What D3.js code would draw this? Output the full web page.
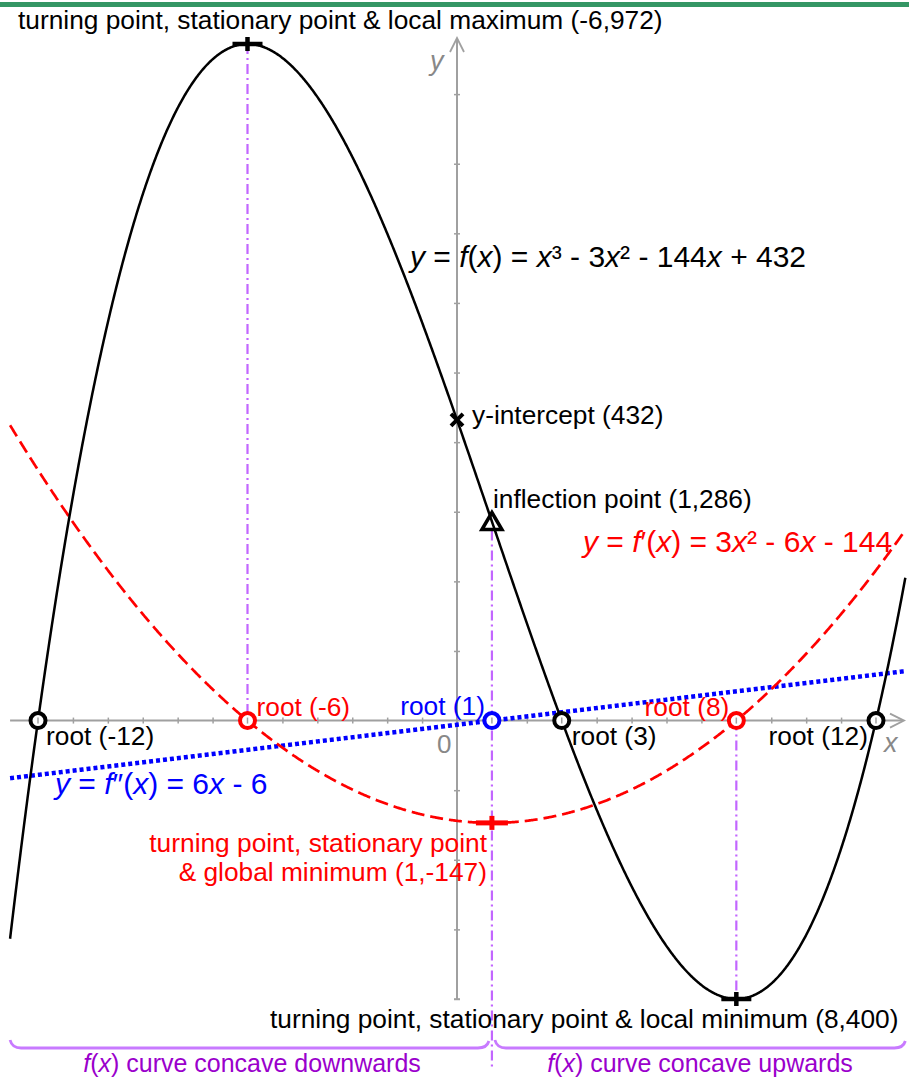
<!DOCTYPE html>
<html>
<head>
<meta charset="utf-8">
<script src="https://cdn.jsdelivr.net/npm/d3@7"></script>
<style>
  html, body { margin: 0; padding: 0; background: #fff; }
  svg { display: block; font-family: "Liberation Sans", Arial, sans-serif; }
</style>
</head>
<body>
<svg id="chart" width="909" height="1078"></svg>
<script>
// Polynomial coefficients, highest power first
const fCoeffs  = [1, -3, -144, 432];   // f(x)   = x³ - 3x² - 144x + 432
const f1Coeffs = [3, -6, -144];        // f'(x)  = 3x² - 6x - 144
const f2Coeffs = [6, -6];              // f''(x) = 6x - 6
const plotDomain = [-12.8, 12.84];

// Special points
const fRoots     = [-12, 3, 12];
const f1Roots    = [-6, 8];
const f2Roots    = [1];
const localMax   = [-6, 972];
const localMin   = [8, -400];
const inflection = [1, 286];
const yIntercept = [0, 432];
const f1Min      = [1, -147];

// Axis ticks
const xTickValues = [-12, -11, -10, -9, -8, -7, -6, -5, -4, -3, -2, -1, 1, 2, 3, 4, 5, 6, 7, 8, 9, 10, 11, 12];
const yTickValues = [-400, -300, -200, -100, 100, 200, 300, 400, 500, 600, 700, 800, 900];

const svg = d3.select("#chart");
const W = 909, H = 1078;

const x = d3.scaleLinear().domain([-12, 12]).range([38, 876]);
const y = d3.scaleLinear().domain([-400, 972]).range([999, 44]);

const axisColor = "#a0a0a0";
const violet = "#c266ff";
const bracketViolet = "#c87aff";
const purpleText = "#9a00cc";
const red = "#ff0000";
const blue = "#0000ff";
const labelSize = 26.3;

const poly = c => t => c.reduce((acc, k) => acc * t + k, 0);
const f = poly(fCoeffs), f1 = poly(f1Coeffs), f2 = poly(f2Coeffs);

const samples = d3.range(plotDomain[0], plotDomain[1], 0.02).concat([plotDomain[1]]);
const line = fn => d3.line().x(d => x(d)).y(d => y(fn(d)))(samples);

// top rule
svg.append("rect").attr("x", 0).attr("y", 2).attr("width", W).attr("height", 5).attr("fill", "#349664");

// ---- axes ----
const x0 = x(0), y0 = y(0);
svg.append("line").attr("x1", x(plotDomain[0])).attr("x2", 903).attr("y1", y0).attr("y2", y0)
  .attr("stroke", axisColor).attr("stroke-width", 2);
svg.append("path").attr("d", `M890,${y0 - 7}L904,${y0}L890,${y0 + 7}`)
  .attr("fill", "none").attr("stroke", axisColor).attr("stroke-width", 1.8);
svg.append("line").attr("x1", x0).attr("x2", x0).attr("y1", y(-400)).attr("y2", 39)
  .attr("stroke", axisColor).attr("stroke-width", 2);
svg.append("path").attr("d", `M${x0 - 7},52L${x0},38L${x0 + 7},52`)
  .attr("fill", "none").attr("stroke", axisColor).attr("stroke-width", 1.8);

svg.append("g").attr("transform", `translate(0,${y0 - 3})`)
  .call(d3.axisBottom(x).tickValues(xTickValues).tickSize(6).tickSizeOuter(0).tickFormat(""))
  .call(g => g.select(".domain").remove())
  .selectAll("line").attr("stroke", axisColor).attr("stroke-width", 1.5);
svg.append("g").attr("transform", `translate(${x0 + 3},0)`)
  .call(d3.axisLeft(y).tickValues(yTickValues).tickSize(6).tickSizeOuter(0).tickFormat(""))
  .call(g => g.select(".domain").remove())
  .selectAll("line").attr("stroke", axisColor).attr("stroke-width", 1.5);
svg.append("line").attr("x1", x0 - 3).attr("x2", x0 + 3).attr("y1", y(-400)).attr("y2", y(-400))
  .attr("stroke", axisColor).attr("stroke-width", 1.5);

svg.append("text").attr("x", 437).attr("y", 753).attr("font-size", 26).attr("fill", "#888").text("0");
svg.append("text").attr("x", 884).attr("y", 752).attr("font-size", 27).attr("font-style", "italic").attr("fill", "#888").text("x");
svg.append("text").attr("x", 430).attr("y", 70).attr("font-size", 27).attr("font-style", "italic").attr("fill", "#888").text("y");

// ---- vertical guides (dash-dot) ----
const guide = (xv, ya, yb) => svg.append("line")
  .attr("x1", x(xv)).attr("x2", x(xv)).attr("y1", ya).attr("y2", yb)
  .attr("stroke", violet).attr("stroke-width", 2.2).attr("stroke-dasharray", "10,4,2,4");
guide(localMax[0], y(localMax[1]), y0);
guide(inflection[0], y(inflection[1]) + 9, 1068);
guide(localMin[0], y0, y(localMin[1]));

// ---- curves ----
svg.append("path").attr("d", line(f2)).attr("fill", "none")
  .attr("stroke", blue).attr("stroke-width", 4.5).attr("stroke-dasharray", "4,3");
svg.append("path").attr("d", line(f1)).attr("fill", "none")
  .attr("stroke", red).attr("stroke-width", 2.7).attr("stroke-dasharray", "13,6");
svg.append("path").attr("d", line(f)).attr("fill", "none")
  .attr("stroke", "#000").attr("stroke-width", 2.5);

// ---- markers ----
const rootMark = (xv, color) => {
  svg.append("circle").attr("cx", x(xv)).attr("cy", y0).attr("r", 7.5)
    .attr("fill", "#fff").attr("stroke", color).attr("stroke-width", 4);
  svg.append("line").attr("x1", x(xv)).attr("x2", x(xv)).attr("y1", y0 - 3).attr("y2", y0 + 3)
    .attr("stroke", axisColor).attr("stroke-width", 1.5);
};
fRoots.forEach(r => rootMark(r, "#000"));
f1Roots.forEach(r => rootMark(r, red));
f2Roots.forEach(r => rootMark(r, blue));

const plusMark = (p, color, w, h, t) => {
  const cx = x(p[0]), cy = y(p[1]);
  svg.append("rect").attr("x", cx - w / 2).attr("y", cy - t / 2).attr("width", w).attr("height", t).attr("fill", color);
  svg.append("rect").attr("x", cx - t / 2).attr("y", cy - h / 2).attr("width", t).attr("height", h).attr("fill", color);
};
plusMark(localMax, "#000", 30, 14, 4.5);
plusMark(localMin, "#000", 30, 14, 4.5);
plusMark(f1Min, red, 32, 14, 5);

{
  const cx = x(yIntercept[0]), cy = y(yIntercept[1]), s = 6;
  svg.append("path").attr("d", `M${cx - s},${cy - s}L${cx + s},${cy + s}M${cx - s},${cy + s}L${cx + s},${cy - s}`)
    .attr("stroke", "#000").attr("stroke-width", 4);
}
{
  const cx = x(inflection[0]), cy = y(inflection[1]);
  svg.append("path").attr("d", `M${cx},${cy - 9}L${cx + 10},${cy + 8}L${cx - 10},${cy + 8}Z`)
    .attr("fill", "none").attr("stroke", "#000").attr("stroke-width", 3.5).attr("stroke-linejoin", "miter");
}

// ---- bracket under the x-range ----
const bracket = (xa, xb) => {
  const yt = 1040, yb = 1048;
  svg.append("path")
    .attr("d", `M${xa},${yt}Q${xa + 2},${yb} ${xa + 11},${yb}L${xb - 11},${yb}Q${xb - 2},${yb} ${xb},${yt + 1}`)
    .attr("fill", "none").attr("stroke", bracketViolet).attr("stroke-width", 2.8);
};
bracket(x(plotDomain[0]), x(inflection[0]) - 3);
bracket(x(inflection[0]) + 3, x(plotDomain[1]));

// ---- text ----
const label = (parts, px, py, opts = {}) => {
  const t = svg.append("text").attr("x", px).attr("y", py)
    .attr("font-size", opts.size || labelSize).attr("fill", opts.color || "#000")
    .attr("text-anchor", opts.anchor || "start");
  (Array.isArray(parts) ? parts : [[parts]]).forEach(([s, it]) => {
    const sp = t.append("tspan").text(s);
    if (it) sp.attr("font-style", "italic");
  });
  return t;
};

label("turning point, stationary point & local maximum (-6,972)", 18, 29);
label([["y", 1], [" = "], ["f", 1], ["("], ["x", 1], [") = "], ["x", 1], ["³ - 3"], ["x", 1], ["² - 144"], ["x", 1], [" + 432"]],
  410, 267, { size: 30 });
label("y-intercept (432)", 472, 424);
label("inflection point (1,286)", 493, 508);
label([["y", 1], [" = "], ["f", 1], ["′("], ["x", 1], [") = 3"], ["x", 1], ["² - 6"], ["x", 1], [" - 144"]],
  583, 552, { size: 30, color: red });

label("root (-6)", x(-6) + 9, 716, { color: red });
label("root (1)", x(1) - 7, 715, { color: blue, anchor: "end" });
label("root (8)", x(8) - 7, 716, { color: red, anchor: "end" });
label("root (-12)", x(-12) + 8, 745);
label("root (3)", x(3) + 10, 745);
label("root (12)", x(12) - 8, 745, { anchor: "end" });

label([["y", 1], [" = "], ["f", 1], ["″("], ["x", 1], [") = 6"], ["x", 1], [" - 6"]], 55, 794, { size: 30, color: blue });

label("turning point, stationary point", 487, 852, { color: red, anchor: "end" });
label("& global minimum (1,-147)", 487, 881, { color: red, anchor: "end" });

label("turning point, stationary point & local minimum (8,400)", 270, 1028);

label([["f", 1], ["("], ["x", 1], [") curve concave downwards"]], 252, 1072, { size: 25, color: purpleText, anchor: "middle" });
label([["f", 1], ["("], ["x", 1], [") curve concave upwards"]], 700, 1072, { size: 25, color: purpleText, anchor: "middle" });
</script>
</body>
</html>
